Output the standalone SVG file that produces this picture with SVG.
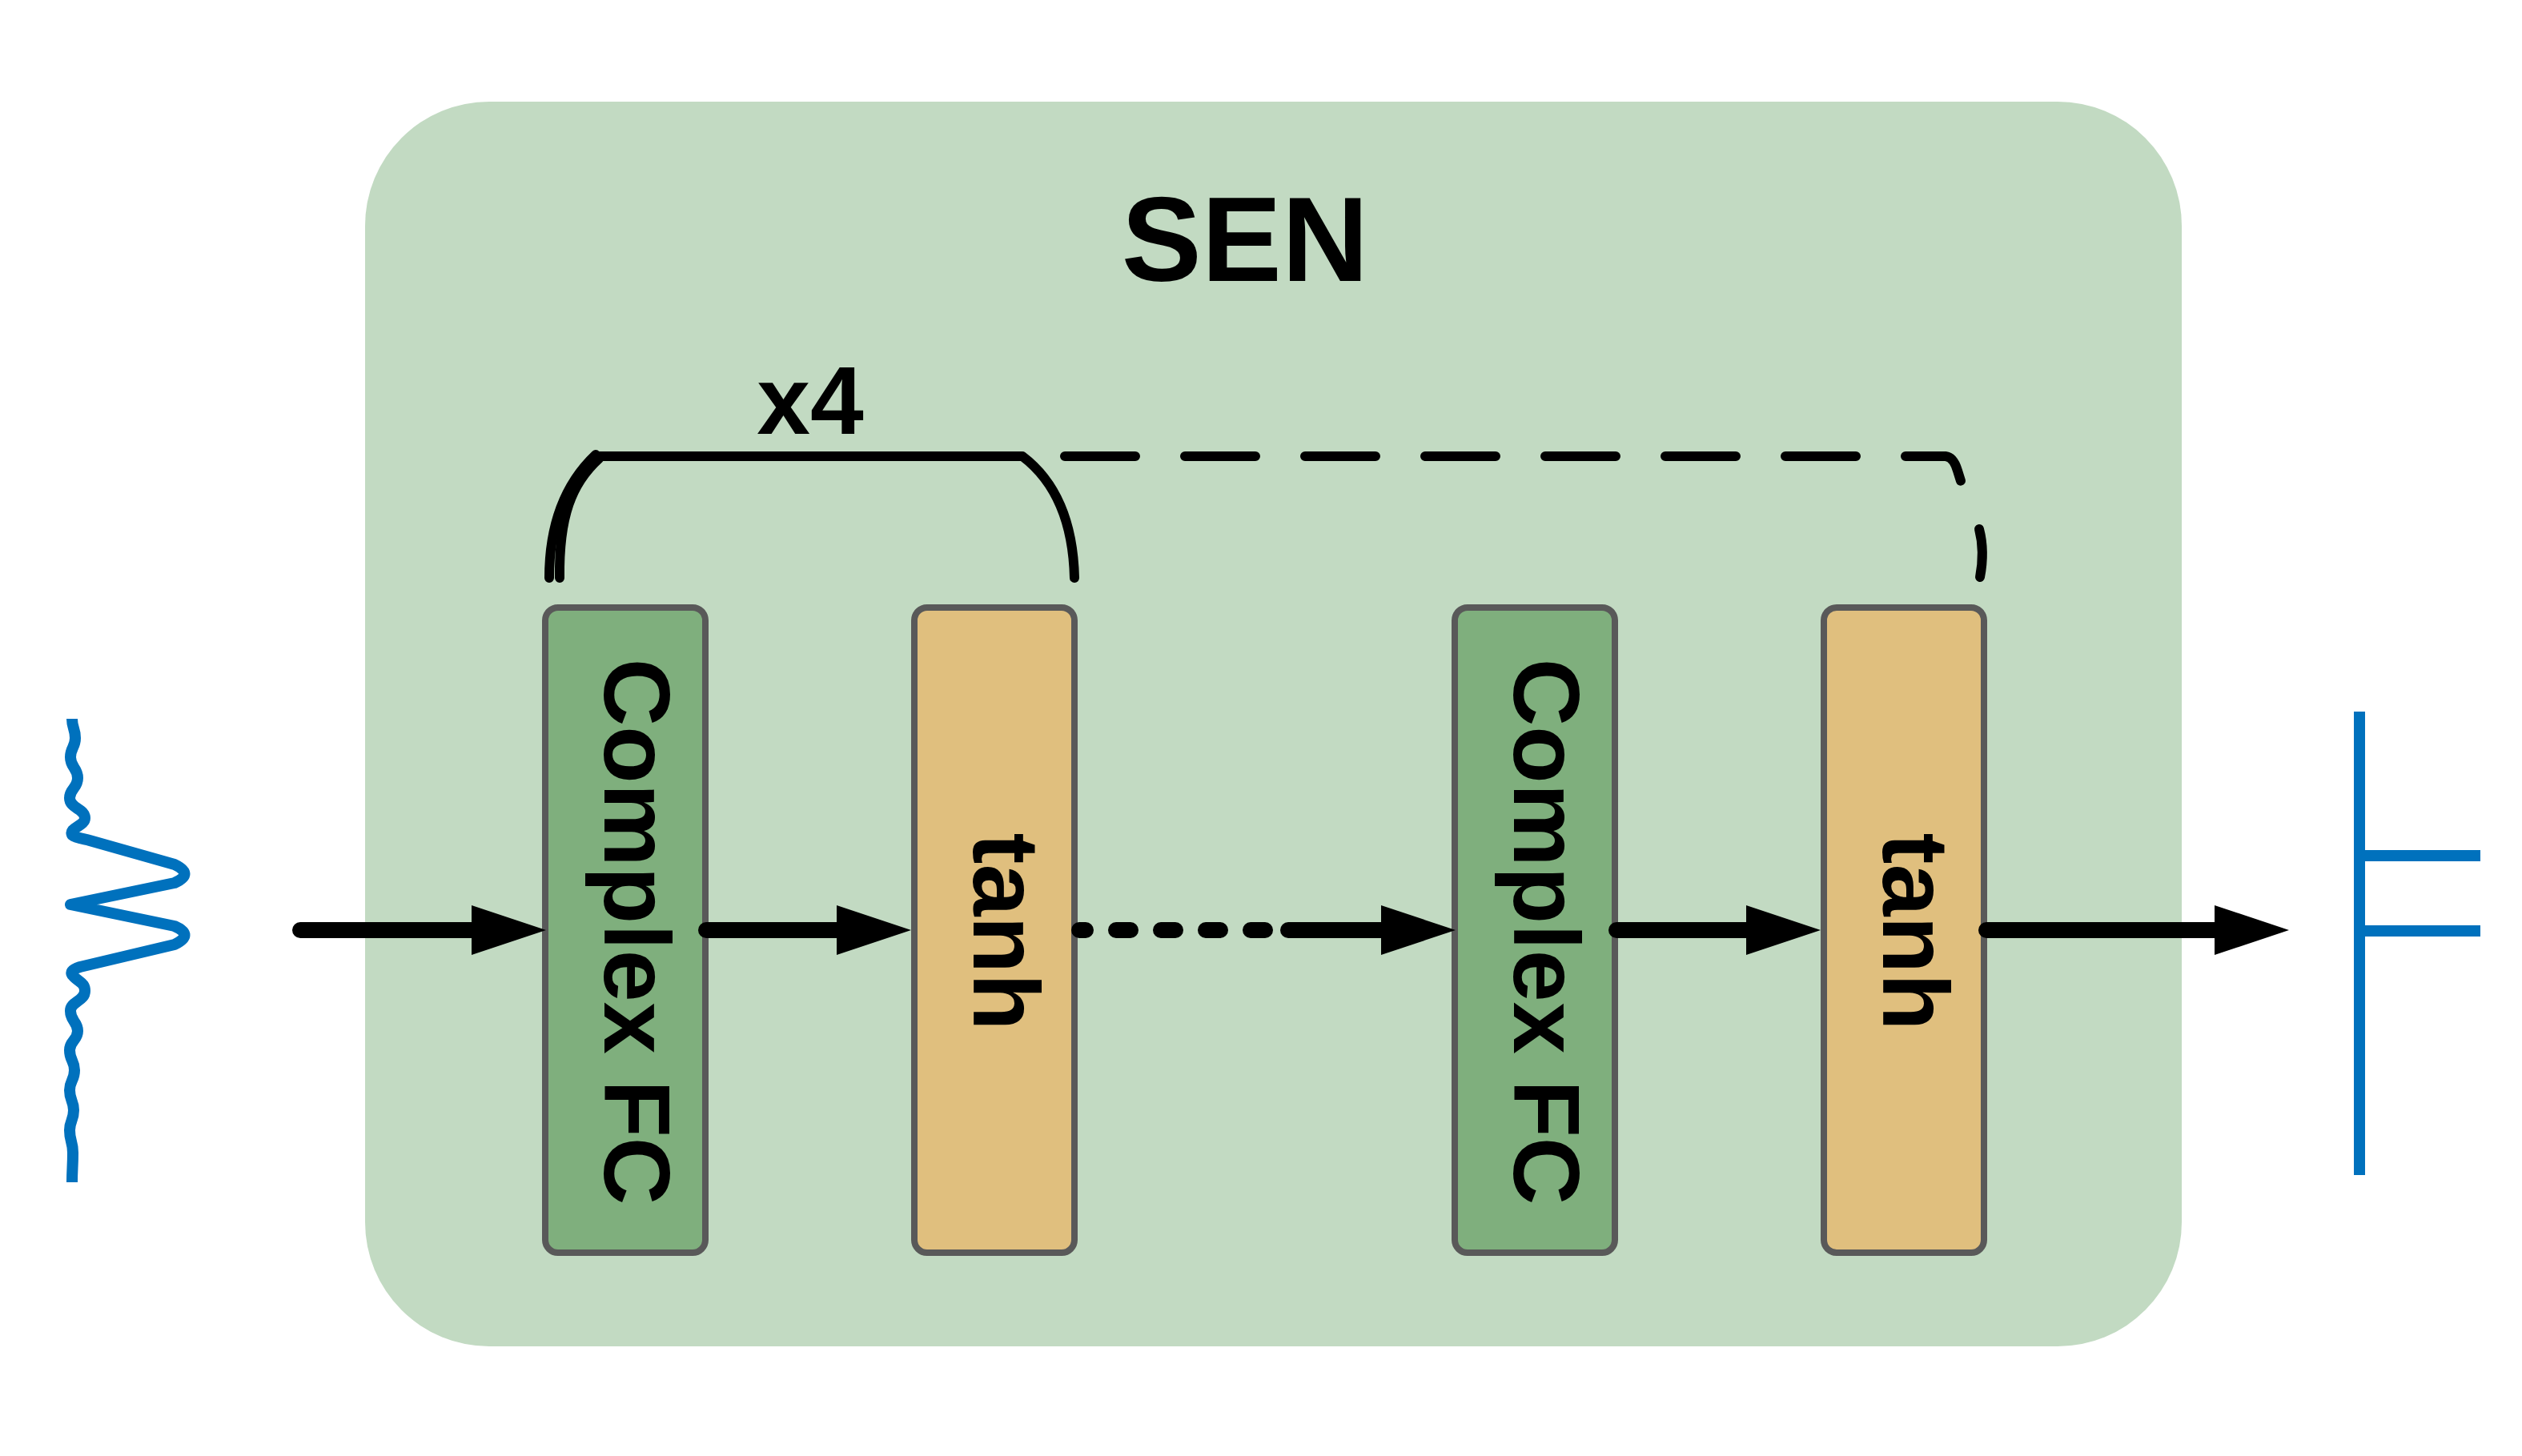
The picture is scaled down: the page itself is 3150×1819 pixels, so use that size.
<svg xmlns="http://www.w3.org/2000/svg" width="3150" height="1819" viewBox="0 0 3150 1819">
  <defs>
    <marker id="ah" markerUnits="userSpaceOnUse" markerWidth="93" markerHeight="62" refX="20" refY="31" orient="auto">
      <path d="M0,0 L93,31 L0,62 Z" fill="#000"/>
    </marker>
  </defs>
  <style>
    .bg { fill: #c2dac2; }
    .cfc { fill: #7faf7d; stroke: #595959; stroke-width: 8; }
    .tanh { fill: #e0bf7e; stroke: #595959; stroke-width: 8; }
    .lbl { font-family: "Liberation Sans", Arial, sans-serif; font-weight: bold; fill: #000; }
    .node-text { font-size: 117px; text-anchor: middle; }
    .arrow { fill: none; stroke: #000; stroke-width: 20; stroke-linecap: round; }
    .brace { fill: none; stroke: #000; stroke-width: 12; stroke-linecap: round; stroke-linejoin: round; }
    .wave { fill: none; stroke: #0071bd; stroke-width: 14; stroke-linecap: butt; stroke-linejoin: round; }
  </style>
  <rect width="3150" height="1819" fill="#ffffff"/>

  <g id="sen-container">
    <rect class="bg" x="456" y="127" width="2269" height="1555" rx="155" ry="155"/>
    <text class="lbl" x="1555" y="351" font-size="150" text-anchor="middle">SEN</text>
  </g>

  <g id="input-signal">
    <path class="wave" d="M 90 898 C 90 910, 94 910, 94 922 C 94 934, 88 934, 88 946 C 88 959, 97 959, 97 972 C 97 985, 87 985, 87 997 C 87 1010, 106 1010, 106 1022 C 106 1032, 86 1034, 90 1043 C 95 1047, 105 1048, 112 1050 L 218 1080 Q 243 1092 218 1103 L 88 1130 L 218 1157 Q 243 1168 218 1180 L 100 1208 Q 84 1213 92 1220 C 100 1228, 106 1228, 106 1238 C 106 1251, 88 1251, 88 1263 C 88 1276, 97 1276, 97 1288 C 97 1300, 87 1300, 87 1312 C 87 1325, 93 1325, 93 1337 C 93 1350, 87 1350, 87 1362 C 87 1375, 92 1375, 92 1387 C 92 1400, 87 1400, 87 1412 C 87 1426, 91 1426, 91 1440 C 91 1458, 90 1460, 90 1477"/>
  </g>

  <g id="output-signal">
    <path class="wave" d="M 2947 889 V 1468 M 2947 1069 H 3098 M 2947 1163 H 3098"/>
  </g>

  <g id="repeat-bracket">
    <path class="brace" d="M 744 570 H 1277 C 1310 595, 1340 640, 1342 722"/>
    <path class="brace" d="M 744 568 C 708 602, 686 650, 686 722"/>
    <path class="brace" d="M 748 573 C 714 604, 698 645, 699 722"/>
    <text class="lbl" x="1012" y="542" font-size="120" text-anchor="middle">x4</text>
  </g>

  <g id="node-complexfc-1">
    <rect class="cfc" x="681" y="759" width="200" height="806" rx="16" ry="16"/>
    <text class="lbl node-text" transform="translate(755,1164) rotate(90)">Complex FC</text>
  </g>
  <g id="node-tanh-1">
    <rect class="tanh" x="1142" y="759" width="200" height="806" rx="16" ry="16"/>
    <text class="lbl node-text" transform="translate(1216,1164) rotate(90)">tanh</text>
  </g>
  <g id="node-complexfc-2">
    <rect class="cfc" x="1817" y="759" width="200" height="806" rx="16" ry="16"/>
    <text class="lbl node-text" transform="translate(1891,1164) rotate(90)">Complex FC</text>
  </g>
  <g id="node-tanh-2">
    <rect class="tanh" x="2278" y="759" width="200" height="806" rx="16" ry="16"/>
    <text class="lbl node-text" transform="translate(2352,1164) rotate(90)">tanh</text>
  </g>

  <g id="connectors">
    <path class="arrow" d="M 375 1162 H 609" marker-end="url(#ah)"/>
    <path class="arrow" d="M 882 1162 H 1065" marker-end="url(#ah)"/>
    <path class="arrow" d="M 1348 1162 H 1580" stroke-dasharray="18 38" stroke-dashoffset="10"/>
    <path class="arrow" d="M 1609 1162 H 1745" marker-end="url(#ah)"/>
    <path class="arrow" d="M 2019 1162 H 2201" marker-end="url(#ah)"/>
    <path class="arrow" d="M 2481 1162 H 2786" marker-end="url(#ah)"/>
    <path class="brace" d="M 1330 570 H 2430 Q 2440 571 2445 588 L 2450 604" stroke-dasharray="88 62"/>
    <path class="brace" d="M 2472 661 C 2477 680, 2477 700, 2473 721"/>
  </g>
</svg>
